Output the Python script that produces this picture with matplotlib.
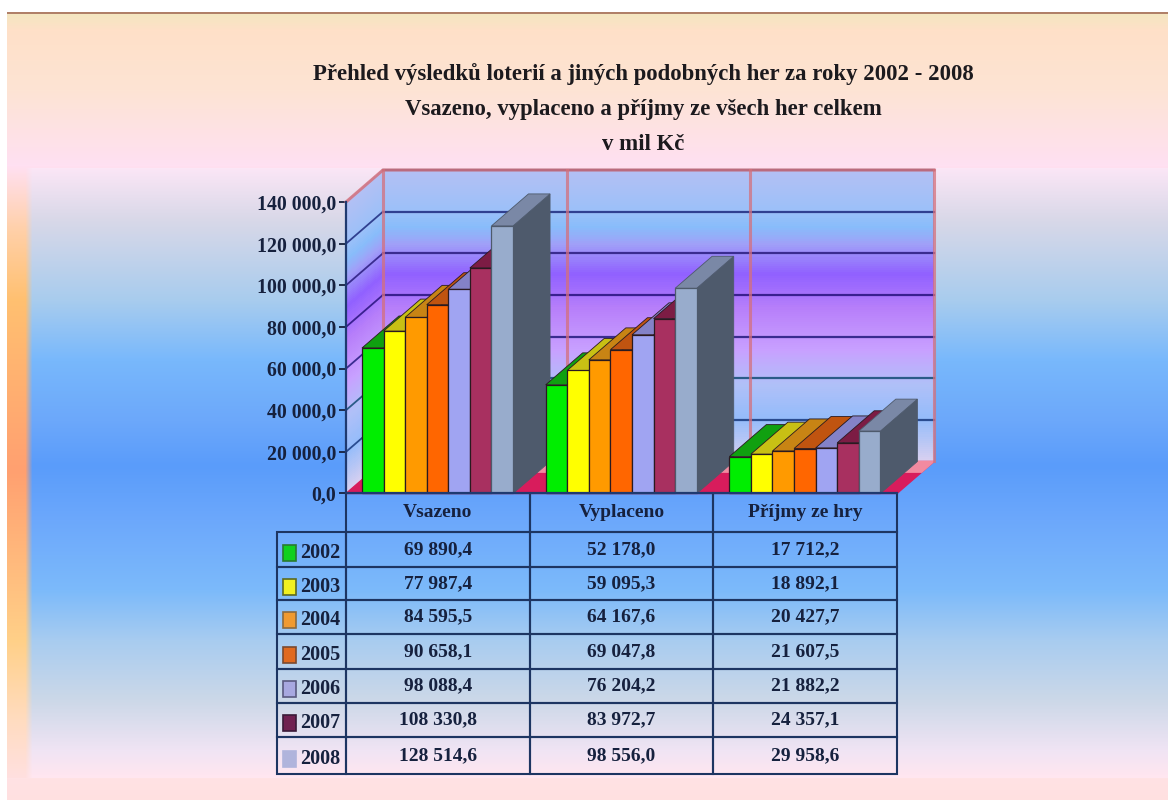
import numpy as np
import matplotlib
matplotlib.use('Agg')
import matplotlib.pyplot as plt
from matplotlib.patches import Rectangle
from matplotlib.table import Table

##### Data

groups = ['Vsazeno', 'Vyplaceno', 'Příjmy ze hry']
years = ['2002', '2003', '2004', '2005', '2006', '2007', '2008']
vsazeno = [69890.4, 77987.4, 84595.5, 90658.1, 98088.4, 108330.8, 128514.6]
vyplaceno = [52178.0, 59095.3, 64167.6, 69047.8, 76204.2, 83972.7, 98556.0]
prijmy = [17712.2, 18892.1, 20427.7, 21607.5, 21882.2, 24357.1, 29958.6]
yticks = [0, 20000, 40000, 60000, 80000, 100000, 120000, 140000]

title_lines = ['Přehled výsledků loterií a jiných podobných her za roky 2002 - 2008',
               'Vsazeno, vyplaceno a příjmy ze všech her celkem',
               'v mil Kč']

##### Styles

front = ['#00ee00', '#ffff00', '#ff9a00', '#ff6600', '#a0a4f2', '#a83060', '#98accc']
top = ['#10a010', '#c8c014', '#c88414', '#c05410', '#8482c8', '#7c1c44', '#7a88a6']
side = ['#087008', '#908a08', '#905c08', '#883808', '#5c5a90', '#58122e', '#4e5a6c']
keys = ['#10d020', '#f0f020', '#f09a30', '#e06a20', '#a8a8e0', '#702050', '#b0b4dc']
key_edges = ['#2a7a30', '#5c6a20', '#8a6a40', '#7a4a30', '#5a5a80', '#3a1a38', '#b0b4dc']

W, H = 1168, 800
serif = 'Liberation Serif'
dark = '#16213e'


def fmt(v):
    return f'{v:,.1f}'.replace(',', ' ').replace('.', ',')


def hex_rgb(c):
    return np.array(matplotlib.colors.to_rgb(c))


def ramp(rows, stops):
    ys = [s[0] for s in stops]
    cols = np.array([hex_rgb(s[1]) for s in stops])
    return np.stack([np.interp(rows, ys, cols[:, k]) for k in range(3)], axis=1)


fig = plt.figure(figsize=(W / 100, H / 100), dpi=100, facecolor='white')

##### Background picture

rows = np.arange(H)
bg = np.ones((H, W, 3))
outer = ramp(rows, [(14, '#f4e6c0'), (30, '#ffe0c8'), (90, '#fde4d4'), (165, '#ffe0f2'),
                    (778, '#ffe2e4'), (800, '#ffe0e0')])
bg[14:, 7:] = outer[14:, None, :]
bg[12:14, 7:] = hex_rgb('#b08068')
strip = ramp(rows, [(165, '#ffe0f2'), (230, '#ffd0a8'), (300, '#ffc070'), (470, '#ffa070'),
                    (640, '#ffd088'), (720, '#ffdcc0'), (778, '#ffe0e0')])
bg[165:778, 7:] = strip[165:778, None, :]
inner = ramp(rows, [(168, '#fbe6f6'), (220, '#d8d8e8'), (300, '#a8ccee'), (360, '#78b8fc'),
                    (420, '#6ca8fa'), (465, '#5a9cfa'), (520, '#6ca8fc'), (590, '#7cbafa'),
                    (640, '#a8ccf0'), (700, '#ccd8e8'), (750, '#f0e4f4'), (775, '#ffe6f0')])
# soft left edge of the inner panel
mix = np.clip((np.arange(W) - 25) / 7, 0, 1)[None, :, None]
bg[168:778] = bg[168:778] * (1 - mix) + inner[168:778, None, :] * mix

ax_bg = fig.add_axes([0, 0, 1, 1], zorder=0)
ax_bg.imshow(bg, extent=(0, W, H, 0), aspect='auto', interpolation='bilinear')
ax_bg.axis('off')

##### Chart axes: x in categories, y in mil Kc

x0, x1 = 346, 897
y0, y1 = 493.5, 202
ax = fig.add_axes([x0 / W, 1 - y0 / H, (x1 - x0) / W, (y0 - y1) / H], zorder=1)
ax.set_xlim(0, 3)
ax.set_ylim(0, 140000)
ax.patch.set_alpha(0)

depth_x = 37 / ((x1 - x0) / 3)
depth_y = 32 / (y0 - y1) * 140000
bar_w = 0.1175
bar_start = 0.087

# back and side wall, same colour ramp sheared along the side
wall_stops = [(0, '#d8d0f0'), (20000, '#94bcfa'), (36500, '#b0c0f8'), (53000, '#c8a0ff'),
              (72600, '#b880fa'), (89500, '#9060ff'), (104000, '#a0a0f8'), (112000, '#88bcfa'),
              (120000, '#9cc0f8'), (140000, '#b4c0f4')]
levels = np.linspace(0, 140000, 141)
wall_cols = ramp(levels, wall_stops)

back_x = np.array([depth_x, 3 + depth_x])
xx = np.tile(back_x, (len(levels), 1))
yy = np.tile((levels + depth_y)[:, None], (1, 2))
ax.pcolormesh(xx, yy, wall_cols[:-1][:, None, :], shading='flat', clip_on=False, zorder=1)
xx = np.tile(np.array([0, depth_x]), (len(levels), 1))
yy = np.stack([levels, levels + depth_y], axis=1)
ax.pcolormesh(xx, yy, wall_cols[:-1][:, None, :], shading='flat', clip_on=False, zorder=1)

# floor
ax.fill([0, depth_x, 3 + depth_x, 3], [0, depth_y, depth_y, 0], color='#d81c5c',
        clip_on=False, zorder=2)
ax.fill([2 * depth_x / 3, depth_x, 3 + depth_x, 3 + 2 * depth_x / 3],
        [2 * depth_y / 3, depth_y, depth_y, 2 * depth_y / 3], color='#f28aa0',
        clip_on=False, zorder=2)

# gridlines on both walls
grid_cols = ['#2a4c90', '#2a5c88', '#3a2c90', '#3a2090', '#3a2c90', '#304090', '#2f5590']
for v, c in zip(yticks[1:], grid_cols):
    ax.plot([depth_x, 3 + depth_x], [v + depth_y, v + depth_y], color=c, lw=1.6,
            clip_on=False, zorder=3)
    if v < 140000:
        ax.plot([0, depth_x], [v, v + depth_y], color=c, lw=1.3, clip_on=False, zorder=3)

# wall outline
pink = '#d4707c'
for k in range(4):
    ax.plot([k + depth_x, k + depth_x], [depth_y, 140000 + depth_y], color=pink, lw=2.2,
            alpha=0.75, clip_on=False, zorder=3)
ax.plot([0, depth_x, 3 + depth_x], [140000, 140000 + depth_y, 140000 + depth_y], color=pink,
        lw=2.2, alpha=0.85, clip_on=False, zorder=3)

##### Bars, left to right so that each one covers the top of the previous one

series = [vsazeno, vyplaceno, prijmy]
z = 4
for g in range(3):
    for b in range(7):
        v = series[g][b]
        left = g + bar_start + b * bar_w
        edge = '#4e5a6c' if b == 6 else '#2a1a20'
        ax.fill([left + bar_w, left + bar_w + depth_x, left + bar_w + depth_x, left + bar_w],
                [0, depth_y, v + depth_y, v], facecolor=side[b], edgecolor=edge, lw=0.6,
                clip_on=False, zorder=z)
        ax.fill([left, left + depth_x, left + bar_w + depth_x, left + bar_w],
                [v, v + depth_y, v + depth_y, v], facecolor=top[b], edgecolor=edge, lw=0.6,
                clip_on=False, zorder=z)
        ax.bar(left, v, width=bar_w, align='edge', color=front[b], edgecolor=edge,
               linewidth=0.9, clip_on=False, zorder=z + 1)
        z += 2

##### Axis

ax.set_xticks([])
ax.set_yticks(yticks)
ax.set_yticklabels([fmt(v) for v in yticks], fontfamily=serif, fontweight='bold',
                   fontsize=14.3, color=dark)
ax.tick_params(axis='y', length=5, width=1.3, color=dark, pad=2)
for s in ['top', 'right']:
    ax.spines[s].set_visible(False)
for s in ['left', 'bottom']:
    ax.spines[s].set_color('#1f3a70')
    ax.spines[s].set_linewidth(1.6)
    ax.spines[s].set_zorder(100)

##### Table under the chart

w_unit = x1 - x0
h_unit = y0 - y1
tb_left, tb_bottom = (277 - x0) / w_unit, (y0 - 774) / h_unit
tb_h = (774 - y0) / h_unit
tb = Table(ax, bbox=[tb_left, tb_bottom, 1 - tb_left, tb_h])
line = '#1d3562'
head_px = 38.5
row_px = [35, 33, 34, 35, 34, 34, 37]
col_w = [-tb_left, 1 / 3, 1 / 3, 1 / 3]

for c in range(4):
    txt = groups[c - 1] if c > 0 else ''
    cell = tb.add_cell(0, c, col_w[c], head_px / h_unit, text=txt, loc='center', facecolor='none',
                       edgecolor=line)
    cell.set_linewidth(1.5)
    if c == 0:
        cell.visible_edges = ''
    else:
        cell.visible_edges = 'LRB'
for r in range(7):
    cell = tb.add_cell(r + 1, 0, col_w[0], row_px[r] / h_unit, facecolor='none', edgecolor=line)
    cell.set_linewidth(1.5)
    for c in range(3):
        cell = tb.add_cell(r + 1, c + 1, col_w[c + 1], row_px[r] / h_unit, text=fmt(series[c][r]),
                           loc='center', facecolor='none', edgecolor=line)
        cell.set_linewidth(1.5)
tb.auto_set_font_size(False)
tb.set_fontsize(14)
for cell in tb.get_celld().values():
    cell.get_text().set(fontfamily=serif, fontweight='bold', color=dark)
    cell.set_zorder(200)
tb.set_zorder(200)
ax.add_table(tb)

# legend keys and years in the first column, they sit a little under the row middle
row_top = y0 + head_px
for r in range(7):
    row_mid = row_top + row_px[r] / 2 + 3.5
    row_top += row_px[r]
    ax.add_patch(Rectangle(((283 - x0) / w_unit, (y0 - row_mid - 8) / h_unit), 13 / w_unit, 16 / h_unit,
                           transform=ax.transAxes, facecolor=keys[r], edgecolor=key_edges[r],
                           lw=1.2, clip_on=False, zorder=201))
    ax.text((340 - x0) / w_unit, (y0 - row_mid) / h_unit, years[r], transform=ax.transAxes,
            ha='right', va='center', fontfamily=serif, fontweight='bold', fontsize=14.5,
            color=dark, clip_on=False, zorder=201)

##### Title

for t, ty in zip(title_lines, [74, 110, 145]):
    fig.text(643 / W, 1 - ty / H, t, ha='center', va='center', fontfamily=serif,
             fontweight='bold', fontsize=16.4, color='#1c1a1e', zorder=5)

fig.savefig('out.png', dpi=100)
